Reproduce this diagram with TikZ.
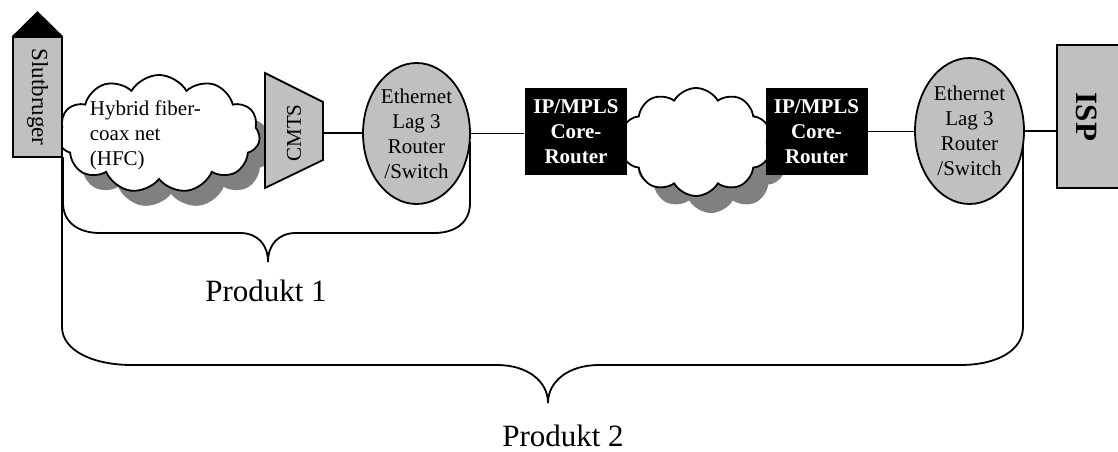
\documentclass[tikz,border=0pt]{standalone}
\usepackage{fontspec}
\setmainfont{Liberation Serif}
\usetikzlibrary{shapes.symbols,shapes.geometric}
\definecolor{boxgray}{HTML}{C0C0C0}
\definecolor{shadowgray}{HTML}{808080}
\tikzset{
  txt/.style={font=\fontsize{21}{25}\selectfont, align=center, inner sep=0pt},
  bigtxt/.style={font=\fontsize{31}{36}\selectfont, inner sep=0pt},
  puffy/.style={cloud, cloud puffs=11, cloud puff arc=120, cloud ignores aspect, inner sep=0pt},
  cloudshadow/.style={puffy, fill=shadowgray, draw=none},
  cloudfront/.style={puffy, fill=white, draw=black},
  graybox/.style={rectangle, draw=black, fill=boxgray, inner sep=0pt},
  corebox/.style={rectangle, fill=black, text=white, inner sep=0pt,
    minimum width=102pt, minimum height=87pt,
    font=\fontsize{21}{25}\selectfont\bfseries, align=center},
  switchnode/.style={ellipse, draw=black, fill=boxgray, inner sep=0pt, txt},
  link/.style={draw=black}
}
\begin{document}
\begin{tikzpicture}[x=1pt, y=-1pt, line width=1.8pt]
\useasboundingbox (0,0) rectangle (1118,452);
\clip (0,0) rectangle (1118,452);

% access network cloud with its shadow
\node[cloudshadow, minimum width=202pt, minimum height=118pt] (hfcshadow) at (171,149) {};
\node[cloudfront, minimum width=202pt, minimum height=118pt] (hfc) at (159,134) {};
\node[txt, align=left, anchor=west] (hfctext) at (89,135) {Hybrid fiber-\\coax net\\(HFC)};

% end user
\node[graybox, minimum width=49pt, minimum height=120pt] (user) at (37.5,97)
  {\fontsize{23}{27}\selectfont\rotatebox{-90}{Slutbruger}};
\fill[black] (user.north west) -- ([yshift=25pt]user.north) -- (user.north east) -- cycle;

% CMTS trapezoid
\node[inner sep=0pt, minimum width=58pt, minimum height=58pt] (cmts) at (294,133) {};
\draw[fill=boxgray] (265,73) -- (323,102) -- (323,160) -- (265,188) -- cycle;
\node[txt] (cmtslabel) at (294,133) {\rotatebox{90}{CMTS}};

% core cloud with its shadow
\node[cloudshadow, cloud puffs=10, minimum width=150pt, minimum height=108pt] (coreshadow) at (711,159) {};
\node[cloudfront, cloud puffs=10, minimum width=150pt, minimum height=108pt] (corecloud) at (696,142) {};

% switches and routers
\node[switchnode, minimum width=107pt, minimum height=141pt] (eth1) at (416.5,133.5)
  {Ethernet\\Lag 3\\Router\\/Switch};
\node[corebox] (core1) at (576,131.5) {IP/MPLS\\Core-\\Router};
\node[corebox] (core2) at (816.5,131.5) {IP/MPLS\\Core-\\Router};
\node[switchnode, minimum width=109pt, minimum height=146pt] (eth2) at (969.5,131)
  {Ethernet\\Lag 3\\Router\\/Switch};

% provider
\node[graybox, minimum width=70pt, minimum height=143pt] (isp) at (1092,116.5) {};
\node[inner sep=0pt, font=\fontsize{31}{36}\selectfont\bfseries] (isplabel) at (1087,117)
  {\rotatebox{-90}{ISP}};

% links
\draw[link] (cmts.east) -- (cmts.east -| eth1.west);
\draw[link] (eth1.east) -- (eth1.east -| core1.west);
\draw[link] (core2.east) -- (core2.east -| eth2.west);
\draw[link] (eth2.east) -- (eth2.east -| isp.west);

% brace for product 1
\draw (63,157) -- (63,203)
  .. controls (63,222) and (78,233) .. (100,233) -- (240,233)
  .. controls (257,233) and (268,244) .. (268,262)
  .. controls (268,244) and (279,233) .. (296,233) -- (434,233)
  .. controls (456,233) and (470,222) .. (470,203) -- (470,142);
\node[bigtxt, anchor=base] (prod1) at (266,301) {Produkt 1};

% brace for product 2
\draw (62,157) -- (62,327)
  .. controls (62,350) and (92,365) .. (132,365) -- (497,365)
  .. controls (527,365) and (548,381) .. (548,403)
  .. controls (548,381) and (569,365) .. (599,365) -- (960,365)
  .. controls (998,365) and (1023,350) .. (1023,327) -- (1023,145);
\node[bigtxt, anchor=base] (prod2) at (563,446) {Produkt 2};
\end{tikzpicture}
\end{document}
